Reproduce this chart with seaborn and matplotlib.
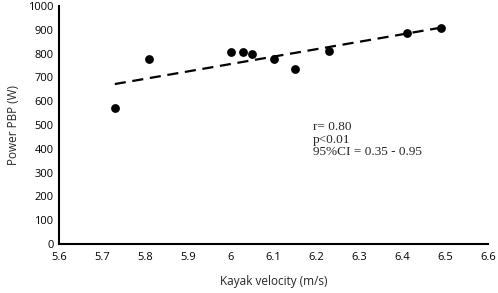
import matplotlib
matplotlib.use('Agg')
import matplotlib.pyplot as plt
import numpy as np
import pandas as pd
import seaborn as sns

# values
velocity = [5.73, 5.81, 6.00, 6.03, 6.05, 6.10, 6.15, 6.23, 6.41, 6.49]
power = [570, 775, 805, 805, 800, 778, 735, 810, 885, 907]
x_ticks = [5.6, 5.7, 5.8, 5.9, 6.0, 6.1, 6.2, 6.3, 6.4, 6.5, 6.6]
x_tick_labels = ['5.6', '5.7', '5.8', '5.9', '6', '6.1', '6.2', '6.3', '6.4', '6.5', '6.6']
y_ticks = list(range(0, 1001, 100))
stats_text = ['r= 0.80', 'p<0.01', '95%CI = 0.35 - 0.95']

df = pd.DataFrame({'velocity': velocity, 'power': power})

sns.set_style('white')
plt.rcParams['font.family'] = ['Open Sans', 'DejaVu Sans']

fig = plt.figure(figsize=(4.98, 2.93), dpi=100)
ax = fig.add_axes([0.1185, 0.167, 0.8615, 0.813])

sns.regplot(data=df, x='velocity', y='power', ax=ax, ci=None, truncate=True,
            scatter_kws=dict(color='black', s=40, linewidths=0, alpha=1),
            line_kws=dict(color='black', linestyle=(0, (5, 3)), linewidth=1.6))

ax.set_xlim(5.6, 6.6)
ax.set_ylim(0, 1000)
ax.set_xticks(x_ticks)
ax.set_xticklabels(x_tick_labels)
ax.set_yticks(y_ticks)
ax.tick_params(direction='in', length=3, width=1.2, labelsize=8, colors='black', pad=6)
ax.tick_params(axis='y', pad=4)
for s in ['top', 'right']:
    ax.spines[s].set_visible(False)
for s in ['left', 'bottom']:
    ax.spines[s].set_color('black')
    ax.spines[s].set_linewidth(1.5)

ax.set_xlabel('Kayak velocity (m/s)', fontsize=8.5, labelpad=8)
ax.set_ylabel('Power PBP (W)', fontsize=8.5, labelpad=6)

ax.text(6.192, 515, '\n'.join(stats_text), fontsize=9.5, family='Liberation Serif',
        va='top', ha='left', linespacing=1.05)

fig.savefig('out.png', dpi=100)
